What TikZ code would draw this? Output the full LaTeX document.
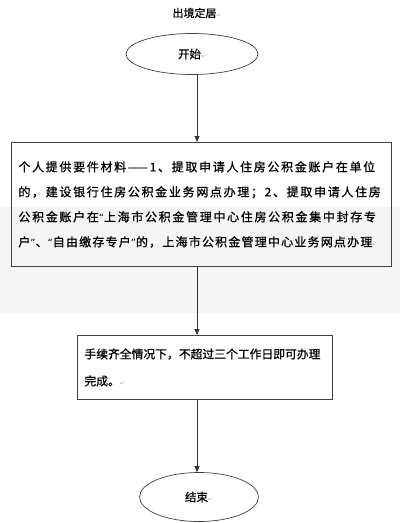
\documentclass[tikz,border=0pt]{standalone}
\usepackage{fontspec}
\setmainfont{Noto Sans CJK SC}[FakeBold=0.8]
\newfontfamily\symfont{DejaVu Sans}
\usepackage{tikz}
\usepackage{xcolor}
\usetikzlibrary{shapes.geometric, arrows.meta, positioning, calc}

\newcommand{\pmark}{{\symfont\color{gray!55}\fontsize{6}{6}\selectfont ↵}}
\newcommand{\oq}{{\symfont\fontsize{10}{10}\selectfont “}}
\newcommand{\cq}{{\symfont\fontsize{10}{10}\selectfont ”}}

\tikzset{
  flowline/.style={draw=black!80, line width=0.8pt, -{Triangle[length=6pt,width=5pt]}},
  terminal/.style={ellipse, draw=black!75, line width=0.7pt, inner sep=0pt},
  stepbox/.style={rectangle, draw=black!75, line width=0.9pt, align=left, anchor=north west}
}

\begin{document}
\begin{tikzpicture}[x=1pt, y=-1pt]
\useasboundingbox (0,0) rectangle (400,523);
% watermark band
\fill[gray!8] (0,207) rectangle (400,313);

% Title
\node[font=\fontsize{11}{11}\selectfont] (title) at (197,13) {出境定居\pmark};
\coordinate (axis) at (197,0);

% Start
\node[terminal, minimum width=132pt, minimum height=41pt, font=\fontsize{11.5}{11.5}\selectfont] (start) at (192,54) {开始\pmark};

% Materials
\node[stepbox, minimum width=380pt, minimum height=124pt, text width=366pt, inner xsep=7pt, inner ysep=9pt,
      font=\fontsize{12}{25}\selectfont\addfontfeature{LetterSpace=14}] (material) at (11,142)
  {个人提供要件材料——1、提取申请人住房公积金账户在单位\\
   的，建设银行住房公积金业务网点办理；2、提取申请人住房\\
   公积金账户在\oq 上海市公积金管理中心住房公积金集中封存专\\
   {\addfontfeature{LetterSpace=10}户\cq 、\oq 自由缴存专户\cq 的，上海市公积金管理中心业务网点办理}\pmark};

% Finish within three days
\node[stepbox, minimum width=255pt, minimum height=64pt, text width=241pt, inner xsep=7pt, inner ysep=9pt,
      font=\fontsize{11.8}{27}\selectfont] (limit) at (77,335)
  {手续齐全情况下，不超过三个工作日即可办理\\
   完成。\pmark};

% End
\node[terminal, minimum width=119pt, minimum height=49pt, font=\fontsize{11.5}{11.5}\selectfont] (finish) at (199,497) {结束\pmark};

% Connectors
\draw[flowline] (start.south -| axis) -- (material.north -| axis);
\draw[flowline] (material.south -| axis) -- (limit.north -| axis);
\draw[flowline] (limit.south -| axis) -- (finish.north -| axis);
\end{tikzpicture}
\end{document}
